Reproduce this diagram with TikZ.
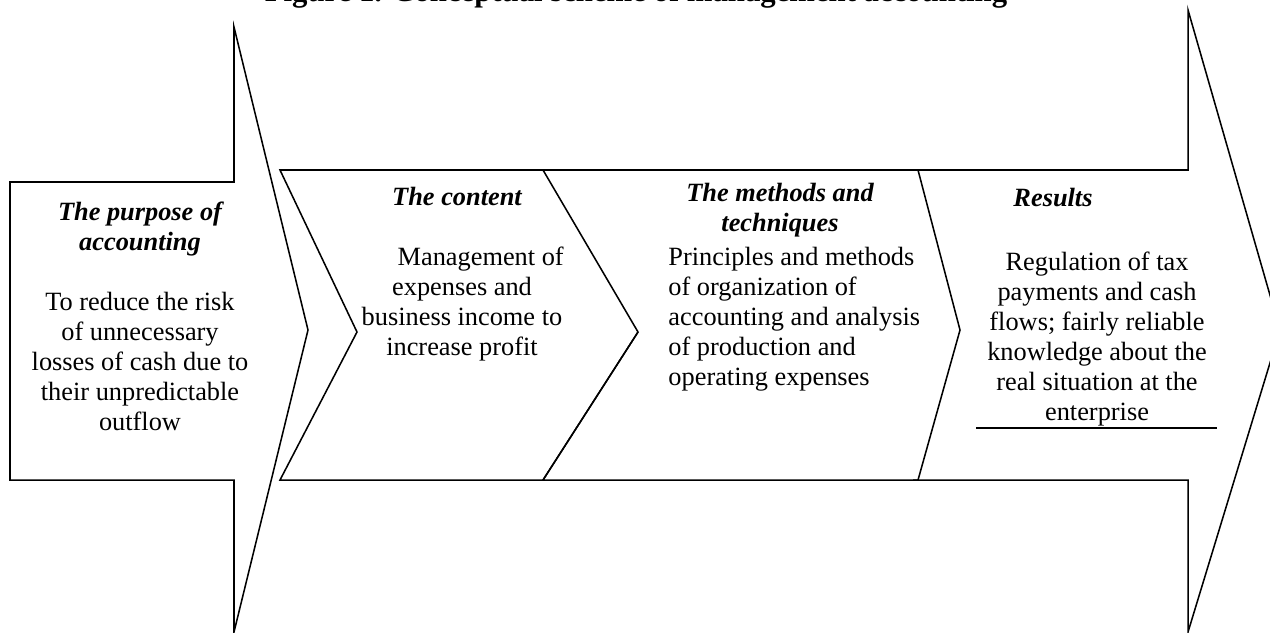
\documentclass[tikz,border=0pt]{standalone}
\usepackage{fontspec}
\setmainfont{Liberation Serif}
\usepackage{tikz}
\usetikzlibrary{calc}

\begin{document}
\begin{tikzpicture}[x=0.016cm, y=-0.016cm,
		outline/.style={line width=0.7pt, line join=miter},
		headtext/.style={font=\fontsize{12pt}{13.6pt}\selectfont\bfseries\itshape, align=center, inner sep=0pt, anchor=base},
		bodytext/.style={font=\fontsize{12pt}{13.6pt}\selectfont, align=center, inner sep=0pt, anchor=base}]
		%%%%% START %%%%%
		
		\useasboundingbox (0,0) rectangle (1270,632);
		\clip (0,0) rectangle (1270,632);
		
		\node[font=\fontsize{14pt}{16pt}\selectfont\bfseries, inner sep=0pt, anchor=base] (title) at (636,1) {Figure 1. Conceptual scheme of management accounting};
		
		% purpose arrow (base = last line)
		\draw[outline] (10,182) -- (234,182) -- (234,27) -- (308,330) -- (234,632) -- (234,480) -- (10,480) -- cycle;
		\node[headtext] (purposehead) at (140,250) {The purpose of\\accounting};
		\node[bodytext] (purposebody) at (140,430) {To reduce the risk\\of unnecessary\\losses of cash due to\\their unpredictable\\outflow};
		
		% content chevron
		\draw[outline] (280,170) -- (543,170) -- (638,332) -- (543,480) -- (280,480) -- (357,332) -- cycle;
		\node[headtext] (contenthead) at (457,205) {The content};
		\node[bodytext] (contentbody) at (462,355) {\hspace*{17pt}Management of\\expenses and\\business income to\\increase profit};
		
		% methods chevron
		\draw[outline] (543,170) -- (918,170) -- (960,330) -- (918,480) -- (543,480) -- (638,332);
		\node[headtext] (methodshead) at (780,231) {The methods and\\techniques};
		\node[bodytext, align=left, anchor=base west] (methodsbody) at (668,385) {Principles and methods\\of organization of\\accounting and analysis\\of production and\\operating expenses};
		
		% results arrow
		\draw[outline] (913,170) -- (1188,170) -- (1188,10) -- (1280,330) -- (1188,632) -- (1188,480) -- (913,480);
		\node[headtext] (resultshead) at (1053,206) {Results};
		\node[bodytext] (resultsbody) at (1097,420) {Regulation of tax\\payments and cash\\flows; fairly reliable\\knowledge about the\\real situation at the\\enterprise};
		\draw[line width=1.3pt] (976,428) -- (1217,428);
		
		%%%%% END %%%%%
	\end{tikzpicture}
\end{document}
